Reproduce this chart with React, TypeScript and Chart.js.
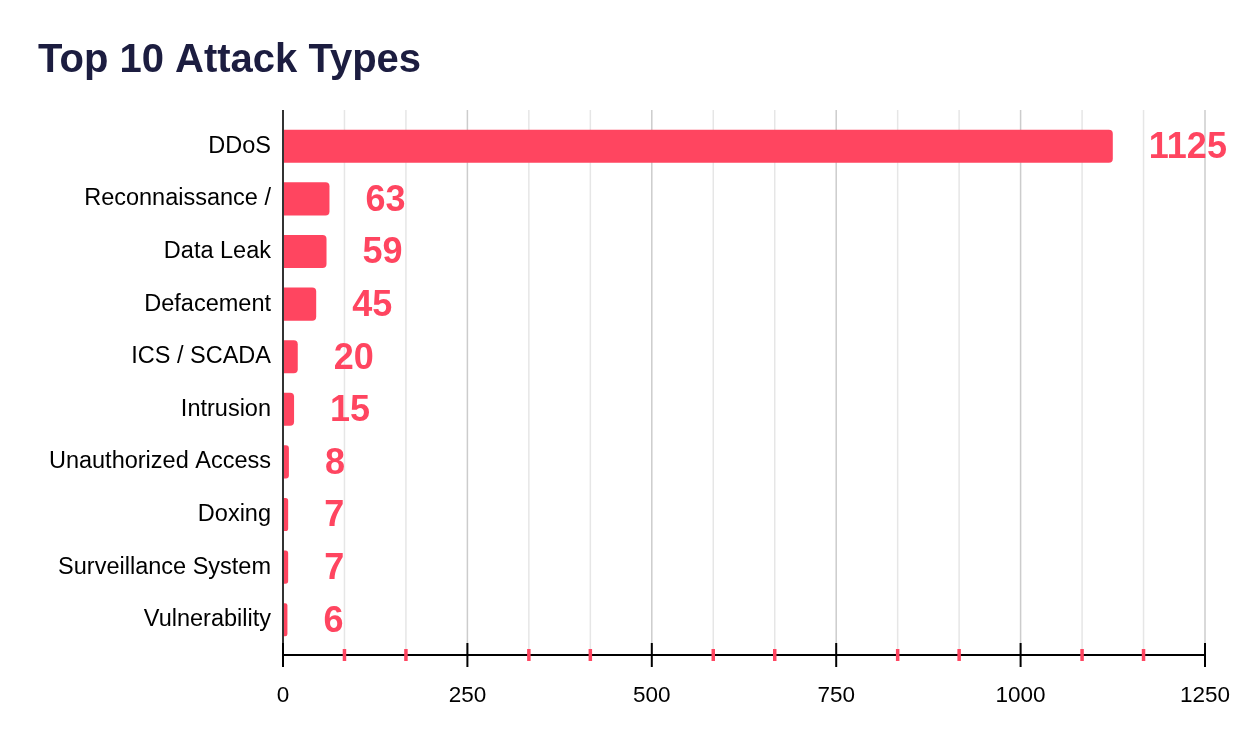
import { useEffect, useRef } from "react"
import { Chart, registerables } from "chart.js"

Chart.register(...registerables)

const categories = [
  "DDoS",
  "Reconnaissance /",
  "Data Leak",
  "Defacement",
  "ICS / SCADA",
  "Intrusion",
  "Unauthorized Access",
  "Doxing",
  "Surveillance System",
  "Vulnerability",
]
const counts = [1125, 63, 59, 45, 20, 15, 8, 7, 7, 6]
const majorTicks = [0, 250, 500, 750, 1000, 1250]
const minorPerMajor = 3

const FONT = "'Liberation Sans', Arial, sans-serif"
const BAR = "#ff4560"

// gridlines, axis lines and tick marks, drawn a little past the chart area
const axisDecor = {
  id: "axisDecor",
  beforeDatasetsDraw(chart: any) {
    const { ctx, chartArea } = chart
    const x = chart.scales.x
    const top = chartArea.top - 10
    const axisY = chartArea.bottom + 9
    ctx.save()
    x.ticks.forEach((t: any, i: number) => {
      const px = x.getPixelForValue(t.value)
      ctx.beginPath()
      ctx.strokeStyle = i % minorPerMajor === 0 ? "#cccccc" : "#e6e6e6"
      ctx.lineWidth = 1.5
      ctx.moveTo(px, top)
      ctx.lineTo(px, axisY)
      ctx.stroke()
    })
    ctx.restore()
  },
  afterDatasetsDraw(chart: any) {
    const { ctx, chartArea } = chart
    const x = chart.scales.x
    const top = chartArea.top - 10
    const axisY = chartArea.bottom + 9
    ctx.save()
    // y axis
    ctx.beginPath()
    ctx.strokeStyle = "#333333"
    ctx.lineWidth = 2
    ctx.moveTo(chartArea.left, top)
    ctx.lineTo(chartArea.left, axisY)
    ctx.stroke()
    // x axis
    ctx.beginPath()
    ctx.strokeStyle = "#000000"
    ctx.moveTo(chartArea.left, axisY)
    ctx.lineTo(chartArea.right, axisY)
    ctx.stroke()
    x.ticks.forEach((t: any, i: number) => {
      const px = x.getPixelForValue(t.value)
      const major = i % minorPerMajor === 0
      ctx.beginPath()
      ctx.strokeStyle = major ? "#000000" : BAR
      ctx.lineWidth = major ? 2 : 3.5
      const h = major ? 12 : 6
      ctx.moveTo(px, axisY - h)
      ctx.lineTo(px, axisY + h)
      ctx.stroke()
    })
    // value labels
    const meta = chart.getDatasetMeta(0)
    ctx.fillStyle = BAR
    ctx.font = `bold 36px ${FONT}`
    ctx.textAlign = "left"
    ctx.textBaseline = "middle"
    meta.data.forEach((bar: any, i: number) => {
      ctx.fillText(String(counts[i]), bar.x + 36, bar.y + 2)
    })
    ctx.restore()
  },
}

export default function App() {
  const canvasRef = useRef<HTMLCanvasElement>(null)

  useEffect(() => {
    if (!canvasRef.current) return

    const chart = new Chart(canvasRef.current, {
      type: "bar",
      data: {
        labels: categories,
        datasets: [
          {
            data: counts,
            backgroundColor: BAR,
            borderWidth: 0,
            borderRadius: 4,
            borderSkipped: "start",
            barPercentage: 0.63,
            categoryPercentage: 1,
          },
        ],
      },
      options: {
        indexAxis: "y",
        responsive: true,
        maintainAspectRatio: false,
        animation: false,
        layout: { padding: { left: 38, right: 37, top: 0, bottom: 0 } },
        plugins: {
          legend: { display: false },
          tooltip: { enabled: false },
          title: {
            display: true,
            text: "Top 10 Attack Types",
            align: "start",
            color: "#1c1d40",
            font: { family: FONT, size: 40, weight: "bold", lineHeight: 1.2 },
            padding: { top: 37, bottom: 35 },
          },
        },
        scales: {
          x: {
            type: "linear",
            min: majorTicks[0],
            max: majorTicks[majorTicks.length - 1],
            grid: { display: false, drawTicks: false },
            border: { display: false },
            afterBuildTicks: (s: any) => {
              const list: { value: number }[] = []
              majorTicks.forEach((v, i) => {
                list.push({ value: v })
                if (i < majorTicks.length - 1) {
                  const step = (majorTicks[i + 1] - v) / minorPerMajor
                  for (let k = 1; k < minorPerMajor; k++) list.push({ value: v + step * k })
                }
              })
              s.ticks = list
            },
            afterFit: (s: any) => {
              s.height = 98
              s.paddingLeft = 0
              s.paddingRight = 0
            },
            ticks: {
              autoSkip: false,
              maxRotation: 0,
              padding: 36,
              color: "#000000",
              font: { family: FONT, size: 22.5 },
              callback: (v: any, i: number) => (i % minorPerMajor === 0 ? String(Math.round(v)) : ""),
            },
          },
          y: {
            grid: { display: false, drawTicks: false },
            border: { display: false },
            afterFit: (s: any) => {
              s.width = 245
            },
            ticks: {
              padding: 12,
              color: "#000000",
              font: { family: FONT, size: 23.5 },
            },
          },
        },
      },
      plugins: [axisDecor],
    })

    return () => chart.destroy()
  }, [])

  return (
    <div style={{ position: "fixed", left: 0, top: 0, width: 1242, height: 744, background: "#fff" }}>
      <canvas ref={canvasRef} />
    </div>
  )
}
